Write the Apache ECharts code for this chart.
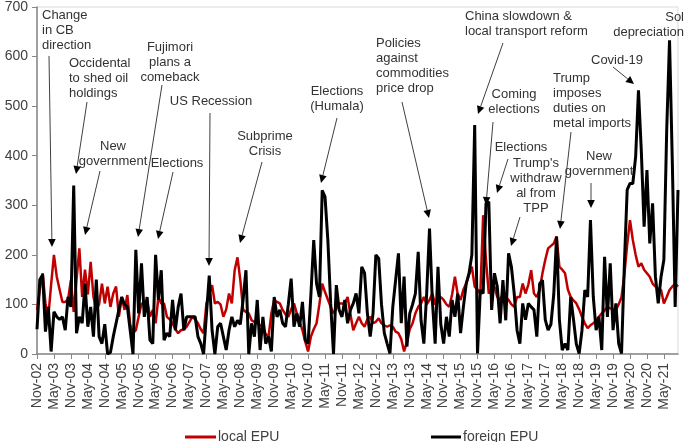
<!DOCTYPE html>
<html>
<head>
<meta charset="utf-8">
<script src="https://cdn.jsdelivr.net/npm/echarts@6/dist/echarts.min.js"></script>
<style>
html,body{margin:0;padding:0;background:#fff;}
#c{width:685px;height:442px;}
</style>
</head>
<body>
<div id="c"></div>
<script>
// ---- data ----
const monthNames = ['Jan','Feb','Mar','Apr','May','Jun','Jul','Aug','Sep','Oct','Nov','Dec'];
const startYear = 2002, startMonth = 10, nMonths = 228; // Nov-02 .. Oct-21
const categories = [];
for (let k = 0; k < nMonths; k++) {
  const m = (startMonth + k) % 12;
  const y = startYear + Math.floor((startMonth + k) / 12);
  categories.push(monthNames[m] + '-' + String(y % 100).padStart(2, '0'));
}

const localEPU = [
 89,130,163,102,75,140,200,156,130,105,
 105,110,149,85,150,213,115,170,120,186,
 115,89,100,142,102,136,95,122,136,75,
 115,89,119,60,42,48,75,102,100,109,
 75,89,62,115,102,102,75,70,62,50,
 42,48,50,55,65,75,70,62,50,42,
 102,120,139,102,105,100,75,90,122,102,
 169,195,149,89,85,82,68,65,62,58,
 55,40,35,82,109,105,102,89,80,75,
 90,102,82,65,48,25,5,35,50,62,
 100,142,125,110,95,82,92,102,102,102,
 115,80,48,62,75,62,55,70,75,62,
 65,72,62,58,55,58,55,45,42,30,
 5,25,50,62,82,95,102,115,100,109,
 122,100,105,115,109,100,95,120,156,120,
 109,130,142,160,176,136,130,122,280,190,
 122,130,136,115,109,122,115,109,100,95,
 115,115,142,122,140,169,122,115,129,163,
 190,213,218,223,237,176,170,163,130,115,
 108,102,90,75,62,52,58,62,68,75,
 82,88,95,92,90,89,100,115,160,220,
 270,230,200,176,183,170,163,156,142,136,
 132,129,102,115,129,136,142,136
];

const foreignEPU = [
 50,150,160,45,95,5,85,75,70,75,
 48,115,95,340,42,75,62,142,55,95,
 35,150,35,21,60,0,3,35,62,89,
 115,100,95,48,0,210,82,183,75,115,
 28,21,200,109,169,28,42,35,109,48,
 95,122,48,75,75,75,75,35,21,0,
 80,158,48,0,55,62,35,8,48,75,
 55,68,60,110,169,0,62,35,109,8,
 75,21,35,5,115,75,89,62,55,100,
 152,55,82,55,105,28,21,120,230,142,
 115,330,317,230,102,0,139,89,75,109,
 62,89,102,122,82,176,163,82,35,82,
 200,193,100,42,21,1,95,149,203,62,
 156,15,82,100,122,206,68,21,122,253,
 109,21,176,60,21,75,35,109,75,122,
 42,95,142,163,200,462,1,129,122,304,
 307,89,163,136,62,149,68,203,176,122,
 48,21,102,69,102,95,89,35,142,149,
 69,48,60,120,237,69,8,21,8,115,
 69,20,1,48,129,115,270,115,48,75,
 8,196,75,183,48,102,21,1,180,331,
 344,344,398,532,411,257,371,223,304,156,
 102,156,190,452,633,384,95,331
];

const yTicks = [0,100,200,300,400,500,600,700];

// annotations: text lines, anchor (pixel layout), arrow start and tip
const annotations = [
 {lines:['Change','in CB','direction'], x:42, y:15, align:'left', from:[49,56], to:[52,247]},
 {lines:['Occidental','to shed oil','holdings'], x:69, y:63, align:'left', from:[87,102], to:[76,174]},
 {lines:['New','government'], x:113, y:146, align:'center', from:[100,171], to:[85,235]},
 {lines:['Fujimori','plans a','comeback'], x:170, y:47, align:'center', from:[162,85], to:[138,237]},
 {lines:['Elections'], x:177, y:163, align:'center', from:[173,172], to:[158,239]},
 {lines:['US Recession'], x:211, y:101, align:'center', from:[210,113], to:[209,266]},
 {lines:['Subprime','Crisis'], x:265, y:136, align:'center', from:[262,162], to:[240,243]},
 {lines:['Elections','(Humala)'], x:337, y:91, align:'center', from:[337,118], to:[321,183]},
 {lines:['Policies','against','commodities','price drop'], x:376, y:43, align:'left', from:[402,102], to:[429,218]},
 {lines:['China slowdown &','local transport reform'], x:465, y:16, align:'left', from:[503,43], to:[478,114]},
 {lines:['Coming','elections'], x:514, y:94, align:'center', from:[493,122], to:[486,205]},
 {lines:['Elections'], x:521, y:147, align:'center', from:[508,159], to:[497,193]},
 {lines:["Trump's",'withdraw','al from','TPP'], x:536, y:163, align:'center', from:[520,217], to:[511,246]},
 {lines:['Trump','imposes','duties on','metal imports'], x:553, y:78, align:'left', from:[571,132], to:[560,229]},
 {lines:['New','government'], x:599, y:156, align:'center', from:[591,183], to:[591,208]},
 {lines:['Covid-19'], x:617, y:60, align:'center', from:[613,67], to:[634,84]},
 {lines:['Sol','depreciation'], x:684, y:17, align:'right', from:null, to:null}
];

// ---- chart ----
const chart = echarts.init(document.getElementById('c'), null, {renderer:'canvas'});
const FONT = 'Arial, "Liberation Sans", sans-serif';

const option = {
  animation:false,
  backgroundColor:'#fff',
  grid:{left:37, right:7, top:7, bottom:88, show:true, borderColor:'#d9d9d9', borderWidth:1},
  legend:[
    {data:['local EPU'], left:180, top:425, icon:'rect', itemWidth:31, itemHeight:3, itemGap:10,
     textStyle:{fontFamily:FONT, fontSize:14, color:'#404040', padding:[0,0,0,-3]}},
    {data:['foreign EPU'], left:426, top:425, icon:'rect', itemWidth:30, itemHeight:3,
     textStyle:{fontFamily:FONT, fontSize:14, color:'#404040', padding:[0,0,0,-3]}}
  ],
  xAxis:{
    type:'category', data:categories, boundaryGap:false,
    axisLine:{lineStyle:{color:'#868686', width:1.5}},
    axisTick:{interval:5, length:5, lineStyle:{color:'#868686'}},
    axisLabel:{interval:5, rotate:90, fontFamily:FONT, fontSize:14, color:'#404040', margin:9},
    splitLine:{show:false}
  },
  yAxis:{
    type:'value', min:yTicks[0], max:yTicks[yTicks.length-1], interval:100,
    axisLine:{show:true, lineStyle:{color:'#868686', width:1.5}},
    axisTick:{show:true, length:5, lineStyle:{color:'#868686'}},
    axisLabel:{fontFamily:FONT, fontSize:14, color:'#404040', margin:9},
    splitLine:{show:false}
  },
  series:[
    {name:'local EPU', type:'line', data:localEPU, symbol:'none', z:2,
     lineStyle:{color:'#c00000', width:2.5}, itemStyle:{color:'#c00000'}},
    {name:'foreign EPU', type:'line', data:foreignEPU, symbol:'none', z:3,
     lineStyle:{color:'#000000', width:3}, itemStyle:{color:'#000000'}}
  ]
};
chart.setOption(option);

// annotations as graphic elements
const LH = 15.3;
const elems = [];
annotations.forEach(a => {
  elems.push({
    type:'text', x:a.x, y:a.y - LH/2, z:10,
    style:{text:a.lines.join('\n'), font:'13px ' + FONT, fill:'#333333',
           align:a.align, verticalAlign:'top', lineHeight:LH}
  });
  if (a.from && a.to) {
    const [x1,y1] = a.from, [x2,y2] = a.to;
    const dx = x2-x1, dy = y2-y1, L = Math.sqrt(dx*dx+dy*dy);
    const ux = dx/L, uy = dy/L, hl = 8, hw = 3.8;
    const bx = x2 - ux*hl, by = y2 - uy*hl;
    elems.push({type:'line', z:10, shape:{x1:x1, y1:y1, x2:bx, y2:by},
                style:{stroke:'#404040', lineWidth:1}});
    elems.push({type:'polygon', z:10, shape:{points:[[x2,y2],[bx - uy*hw, by + ux*hw],[bx + uy*hw, by - ux*hw]]},
                style:{fill:'#000'}});
  }
});
chart.setOption({graphic:elems});
</script>
</body>
</html>
